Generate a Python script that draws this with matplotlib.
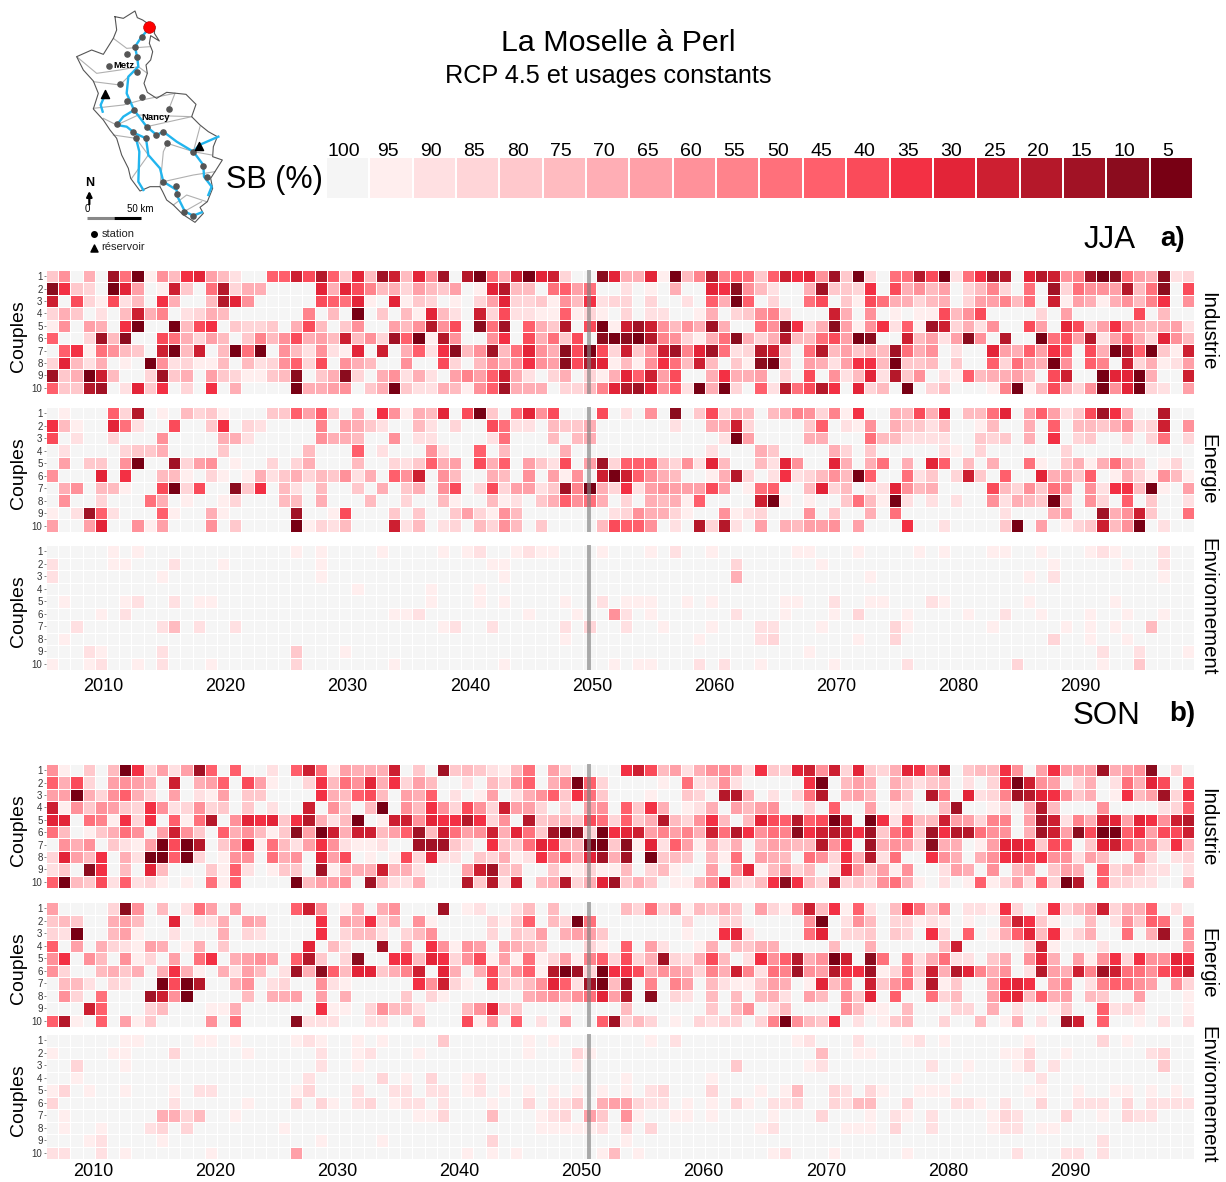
#!/usr/bin/env python
# -*- coding: utf-8 -*-
import numpy as np
import matplotlib
matplotlib.use('Agg')
import matplotlib.pyplot as plt
from matplotlib.colors import ListedColormap, BoundaryNorm

plt.rcParams['font.family'] = ['Liberation Sans', 'DejaVu Sans']

W, H = 1226, 1182

years = np.arange(2006, 2100)
couples = [str(i) for i in range(1, 11)]
sb_levels = [100, 95, 90, 85, 80, 75, 70, 65, 60, 55, 50, 45, 40, 35, 30, 25, 20, 15, 10, 5]
sb_colors = ['#F5F5F5', '#FFEEEE', '#FFE0E2', '#FFD5D8', '#FFC8CC', '#FFBBC0', '#FFAEB5',
             '#FFA0A8', '#FF919A', '#FF838C', '#FF707B', '#FF5F6C', '#FA4B5A', '#F33044',
             '#E32438', '#CD1F31', '#B5182A', '#A11225', '#8B0C1E', '#780014']

# one character per year, 0 = SB 100 %, 1 = 95 %, ... j = 5 %
jja_industrie = [
    "48060 haj18 5de75 200bb fcgb4 e5hf5 e8h0g ja6fj ef300 ie 66e1j 59g9b a4bfd e8h4j 30aag cj2ad hg0eg f89hj ia76i 23",
    "id430 je701 f40ag 36600 00e6e c9563 75470 1eg55 0ab7a 00 20106 00edi 85200 6h443 d0c68 57035 930a0 h3a88 7g5ai 0c",
    "f0c31 c250d 6005g e8000 00cba e10e1 43010 37e33 4185d 23 30300 20b6j b0300 ac041 ca663 56037 795a0 f1761 6859d 08",
    "36402 05f69 02365 00000 09050 j0405 1e520 f3c22 11b13 10 30220 01603 48930 00f60 80101 1c58c 00003 07000 00c05 00",
    "18076 0dj00 j5cd0 43340 6c504 80075 8g8c0 iah0b 64g0c j1 fhf85 86h60 0a8id 36i71 8d2b1 hf362 800c7 0ec47 d8656 72",
    "b003h 5i00c a6375 04958 c675f 583hb j1g80 08d0c 6a4c0 ij ijg98 316ai 636g5 5ac7j i00f5 727i8 0g00j ac7g2 7b63e 85",
    "0bd1a 8540f j5f05 jaj08 52821 e0f06 b2di5 8h5ae 86icj c3 f48fh 9eha2 3gf40 ag574 65ha6 80200 e76b7 db0c6 jgbj4 1f",
    "3e526 010j8 23115 05238 b3c08 65008 00c30 5868d 87icg e1 518da 5f504 1ij40 7627d d5j44 50400 b3a76 j80b9 0f361 27",
    "h46jf 5003h 46074 31145 i046i 30682 62079 7bf62 03603 16 ebf7c 006d6 67030 c0825 e2g48 021b5 66750 cf00j eej60 0f",
    "b44gh 02e4d 030d0 60000 j6678 046j4 22651 8bh66 60335 9e ghe8b 2j6j3 0b2ga cgd0e 350j0 35000 19j15 c638j 8ej32 07",
]
jja_energie = [
    "01000 b3g01 05341 00044 b7b40 60d81 65e0c j40ae 8c000 c0 2080i 04c36 50569 8391d 0065c 6e055 ae07b 724ch d600g 00",
    "d5100 ea200 c004d 03200 00907 64200 52030 0ca22 05446 00 00002 0066f 30000 4b021 80644 25001 50060 b0554 6823f 08",
    "c0200 30008 00006 62000 00866 50080 22000 02a00 05056 00 00000 0002j 70000 66000 a5522 22004 34060 d0340 0303a 03",
    "02000 03446 00004 00000 05000 b0200 08200 b0500 00600 00 00000 00200 06400 00630 40000 02103 00000 03000 00000 00",
    "07044 08j00 h3780 10030 36000 50032 4b670 c6b07 42c07 h3 bbb53 82e50 052e8 00e60 6a060 eb050 600a1 04616 a6401 30",
    "8000e 0d005 51031 01624 63548 260b8 f0850 06508 07180 fj fb865 0016g 302d2 3585j b00a2 403f4 0b00e 674b0 16318 51",
    "06805 5100c j3c00 i4d05 20500 40604 608c0 3c377 24h9j 63 d2787 77c70 1ab00 5e350 22e85 60000 c5384 a8082 dd5j1 07",
    "08003 000a6 01001 30005 50600 05003 00510 05120 46b8a 60 30656 1b000 0fj10 1004a 51j20 20200 82654 j4083 0b040 02",
    "102hb 2000b 10061 00000 h001c 00040 40047 31850 00000 02 38663 10081 23000 80400 60a00 00000 02000 6700h 68f40 0a",
    "7007e 00817 00080 40000 j1325 000f2 50230 53850 40000 5c bb802 0g3g2 07065 77807 000d0 02000 04j07 0134f 58j02 00",
]
son_industrie = [
    "81040 5jd37 27hb0 b0020 bfa17 666f0 40h45 4215a 07300 00 dfc57 26887 2d43e f8f3e 436ed 8f045 5d807 d777h 678i0 30",
    "b6c30 78760 f067b 0c710 03d5a 8e6d3 75002 0538b 068jb 30 00010 a2382 00000 dj057 60642 45020 3djf8 70360 2a6ec 0c",
    "77j63 8b630 70217 04400 00d65 bc507 6b020 17026 8b4da 40 00100 430gg 60203 ag067 50740 g90e2 39hge d8460 1d57h 3d",
    "f1848 743d8 23834 04020 0f084 05j08 5d83c 83f77 30307 80 b4d60 12607 57800 30b00 70120 05h00 1306g 50008 00002 3b",
    "ee0a9 1d3d0 b1ag0 8ede4 dg625 j01ff 8eddg d380g 4554c a3 b46g5 38d50 5ecbg bcjf0 jd2c5 5f773 9907h f296f e7ed8 fg",
    "a5014 6a807 f840b 68514 i7jf6 ff57b h5fa7 8f6ea 4hji3 jd ef797 96fag d8a9i dfgfd h4ac4 hdgga 8806h f7icj jbd7c cf",
    "08680 4217j cjg04 8e1a5 27d82 11200 hhh42 0d44a ed55j j4 i1e2b 71626 05765 5g8d0 h6873 i6601 7eed4 cb04e fb883 d6",
    "3e75d 062jj bj301 880a6 80e7c 0101c 3e220 43612 d8b6e h6 h0j45 4051a 07650 a83d6 g2a00 d8606 8decd 88275 00830 23",
    "240id 050e5 00041 b2014 40h15 66f56 20007 fh450 04113 11 50351 00708 e1573 502e8 47180 02760 80570 4760b 35422 02",
    "bj54c 2b231 010a1 b0000 j5778 0h522 6000g 4g2f0 56g36 eh 46401 158e3 25did 53g34 38a61 0201b 1372b 3jg0b 33220 06",
]
son_energie = [
    "70000 3i805 02a70 70000 bf801 60680 00h01 20025 05000 00 53a37 15464 07318 f5d1b 205da 49022 1d302 d357f 366b0 20",
    "45400 67500 e0226 07600 00d07 6d360 81000 0314b 053ja 00 00000 30033 00000 8j028 50331 21010 08fd4 10050 284ba 08",
    "32j00 57100 20006 03200 00d03 55203 58000 03043 70677 40 00000 100de 20000 ae033 40430 d30b0 16be5 d1360 0a06h 08",
    "b0706 32176 01604 00000 0e052 00h07 0d818 70765 40003 10 b0720 01605 46600 00500 60000 05f00 0003f 10002 00000 07",
    "8d085 08130 70ad0 67870 bg403 i00dd 5ed38 c171a 13719 b3 c36h3 26c50 2d8bg 68jf0 ia092 6a220 4608e 60718 d3d88 ed",
    "83005 64606 d6106 27502 h6ib5 ee469 f0e60 6c48b 1gjh3 jd dc687 6396f 92a9h 87gdd h13a4 f6ge9 6802g 76f9h faa8c df",
    "05520 3200j cjg00 68023 00821 00000 d8f31 0c435 8eb2h j5 h0909 70521 14760 1e590 f48a2 g1400 7ded0 79029 ba870 83",
    "0830a 000hf 8j000 05066 70706 00004 03100 00006 7868a e7 g0i03 20505 05620 75084 e0b00 a3500 7de5b 67054 00700 01",
    "000fb 00035 00011 60000 00d11 03855 20005 8e440 00100 00 50000 00405 80250 00085 11050 00330 60200 1400b 23200 01",
    "bg10b 07140 00080 a0000 i2220 02200 5000c 180b0 20700 bh 35301 03233 039j8 54d02 01450 03005 01602 0hf0b 00102 02",
]
# environnement is nearly empty: {years after 2006: class}
jja_environnement = [
    {5:1, 7:1, 20:1, 22:1, 27:1, 32:1, 34:1, 35:2, 38:1, 39:2, 40:1, 41:1, 45:1, 49:1, 51:2, 54:1, 61:1, 62:1,
     66:1, 71:1, 73:1, 77:1, 78:1, 81:1, 85:1, 86:2, 87:1, 91:2},
    {0:2, 5:1, 6:1, 10:2, 14:1, 22:1, 36:1, 37:1, 56:3, 63:1, 82:1, 88:1, 91:2},
    {0:2, 9:1, 22:1, 37:1, 56:6, 67:1, 80:1, 82:2, 91:1},
    {25:1, 31:1, 35:1},
    {1:1, 6:1, 7:2, 10:2, 12:1, 13:1, 31:1, 35:1, 37:1, 42:1, 45:2, 47:1, 48:1, 49:1, 52:1, 54:1, 60:1, 61:1,
     64:2, 67:1, 68:1, 72:2, 73:1, 80:1, 87:1},
    {4:1, 6:2, 28:1, 29:1, 30:2, 39:1, 43:1, 46:8, 47:2, 49:1, 56:2, 60:1, 64:1, 66:3, 70:1, 75:1, 78:2, 81:1,
     85:1, 88:1, 91:1},
    {2:2, 9:2, 10:5, 12:2, 15:2, 32:1, 33:2, 36:2, 42:2, 44:3, 47:2, 50:1, 54:1, 58:2, 59:2, 63:1, 69:3, 70:1,
     77:1, 83:1, 85:1, 87:1, 90:5},
    {1:1, 42:1, 53:1, 58:2, 59:3, 66:1, 69:3, 82:3, 85:1, 88:1},
    {3:2, 4:1, 9:2, 20:4, 24:1, 62:1, 86:2, 89:2, 93:1},
    {0:1, 3:1, 4:2, 7:1, 9:2, 13:1, 20:3, 28:1, 37:1, 46:1, 48:1, 49:1, 53:2, 55:2, 58:1, 64:1, 70:2, 79:3, 86:1, 89:4},
]
son_environnement = [
    {6:1, 7:1, 12:1, 13:1, 15:1, 20:1, 21:2, 22:1, 25:1, 27:1, 32:4, 39:1, 41:1, 49:1, 51:2, 61:1, 62:2, 66:2,
     70:1, 71:2, 73:1, 80:1, 86:3, 88:1},
    {0:1, 5:1, 6:1, 10:3, 16:1, 22:2, 25:1, 26:2, 30:1, 39:1, 43:3, 44:1, 63:5, 66:1, 67:1, 78:1, 79:1, 80:3,
     83:1, 90:2, 91:3},
    {2:3, 6:1, 22:2, 25:1, 43:1, 56:4, 62:1, 63:2, 72:2, 75:1, 79:1, 80:3, 82:2, 91:4},
    {2:1, 21:2, 27:3, 29:1, 31:3, 34:1, 35:2, 47:1, 54:1, 74:1, 81:2},
    {0:1, 1:3, 3:1, 6:1, 10:1, 12:2, 13:2, 20:1, 21:3, 25:2, 28:2, 29:2, 31:2, 32:2, 34:1, 35:2, 37:1, 39:1, 41:1,
     43:1, 45:1, 47:1, 49:2, 50:3, 54:3, 58:1, 60:1, 61:5, 64:3, 65:2, 67:3, 68:1, 71:1, 72:1, 73:1, 80:1, 81:1,
     84:1, 87:1, 88:1, 90:1, 92:1},
    {0:3, 10:2, 16:1, 20:3, 22:3, 23:1, 25:2, 26:3, 28:1, 29:2, 30:2, 32:2, 36:1, 39:3, 41:2, 42:2, 43:4, 45:6,
     46:7, 47:7, 48:3, 49:2, 50:2, 52:1, 54:1, 56:3, 57:1, 59:2, 60:2, 61:3, 64:3, 65:2, 66:5, 67:5, 70:3, 74:2,
     75:2, 76:1, 78:2, 81:3, 84:2, 85:2, 86:2, 88:3, 90:2, 91:2, 92:2, 93:2},
    {1:1, 9:6, 10:6, 11:3, 12:5, 15:1, 30:1, 31:1, 32:3, 36:5, 40:1, 41:2, 42:3, 44:7, 45:4, 47:8, 48:1, 51:1,
     52:1, 54:1, 59:1, 63:3, 67:1, 69:2, 70:1, 72:2, 77:1, 78:3, 79:2, 83:3, 86:1, 88:3, 89:2, 90:2},
    {1:1, 4:1, 8:2, 9:3, 11:3, 19:1, 40:1, 41:1, 42:1, 43:1, 44:1, 45:2, 47:3, 49:3, 58:1, 59:2, 65:1, 66:1, 67:1,
     69:3, 72:2, 77:1, 78:2, 79:2, 81:1, 82:1},
    {3:1, 4:2, 9:1, 22:1, 27:1, 36:3, 47:1, 86:2},
    {0:2, 1:2, 4:2, 6:1, 13:1, 20:7, 34:1, 36:1, 38:1, 45:1, 46:5, 48:1, 59:1, 60:2, 64:1, 70:1, 79:2, 83:2, 84:2, 86:2},
]

# map of the basin, in pixels of the map box
basin = [(165,35),(190,40),(225,18),(232,38),(248,45),(258,52),(285,65),(283,85),(298,108),(272,92),(268,115),
         (278,140),(272,165),(258,180),(262,205),(252,235),(262,262),(290,280),(320,262),(350,265),(378,268),
         (408,298),(395,335),(420,360),(445,380),(472,395),(460,425),(458,455),(487,465),(468,495),(452,520),
         (458,550),(442,590),(420,607),(430,625),(405,652),(368,628),(340,600),(320,585),(308,560),(300,545),
         (270,545),(240,558),(212,520),(205,490),(185,450),(170,400),(150,375),(130,345),(100,312),(115,265),
         (100,228),(70,195),(50,155),(95,135),(130,148),(160,100),(170,75),(165,35)]
subbasins = [[(50,155),(110,205),(180,195),(235,185)], [(160,100),(200,130),(270,125)],
             [(100,230),(180,240),(205,215)], [(100,310),(190,300),(245,285),(345,265)],
             [(130,340),(170,360),(235,330),(395,335)], [(160,390),(228,400),(265,450),(215,520)],
             [(300,545),(310,440),(322,415),(400,440)], [(310,530),(400,510),(465,500)],
             [(340,600),(380,570),(440,590)], [(420,365),(400,440),(455,450)],
             [(235,185),(262,205)], [(327,311),(345,265)], [(260,365),(395,335)], [(372,620),(425,590)]]
rivers = [[(268,70),(245,95),(225,125),(232,160),(235,185),(205,215),(200,265),(222,315),(190,335),(170,360),
           (200,365),(225,385),(258,400),(265,450),(300,490),(310,530),(350,555),(350,570),(375,620),(400,632),(425,622)],
          [(222,315),(260,365),(290,390),(310,380),(350,410),(400,440),(430,480),(432,515),(455,545),(445,570)],
          [(400,440),(418,420),(475,395)],
          [(228,400),(238,440),(235,530),(250,555)],
          [(135,270),(122,300),(128,320)]]
stations = [(245,97),(225,125),(202,148),(232,157),(148,183),(232,202),(180,236),(245,277),(202,287),(222,315),
            (327,311),(170,358),(220,380),(260,365),(288,390),(310,380),(258,400),(228,400),(322,415),(400,442),
            (428,483),(442,517),(310,532),(348,542),(350,567),(372,620),(400,633)]
reservoirs = [(135,268),(417,422)]
outlet = (267,67)

cmap = ListedColormap(sb_colors[::-1])
norm = BoundaryNorm(np.arange(2.5, 103, 5), cmap.N)

fig = plt.figure(figsize=(W/100, H/100), dpi=100)


def px_axes(x0, y0, x1, y1):
    return fig.add_axes([x0/W, 1 - y1/H, (x1 - x0)/W, (y1 - y0)/H])


def from_rows(rows):
    keys = '0123456789abcdefghij'
    out = [[100 - 5*keys.index(c) for c in r.replace(' ', '')] for r in rows]
    return np.array(out)


def from_sparse(rows):
    out = np.full((10, len(years)), 100)
    for i, r in enumerate(rows):
        for k, c in r.items():
            out[i, k] = 100 - 5*c
    return out


def panel(box, values, side, ticks=None, side_y=None, pad=5):
    ax = px_axes(*box)
    ax.pcolormesh(np.arange(2005.5, 2100), np.arange(11), values, cmap=cmap, norm=norm,
                  edgecolors='white', linewidth=0.5)
    ax.set_xlim(2005.5, 2099.5)
    ax.set_ylim(10, 0)
    ax.axvline(2050, color='#808080', lw=2.8, alpha=0.65)
    for s in ax.spines.values():
        s.set_visible(False)
    ax.set_yticks(np.arange(10) + 0.5)
    ax.set_yticklabels(couples, fontsize=7, color='#333333')
    ax.tick_params(axis='y', length=1.5, width=0.5, pad=1, color='#555555')
    if ticks is None:
        ax.set_xticks([])
    else:
        ax.set_xticks(np.arange(2010, 2100, 10) + ticks)
        ax.set_xticklabels([str(y) for y in range(2010, 2100, 10)], fontsize=13)
        ax.tick_params(axis='x', length=0, pad=pad)
    mid = (box[1] + box[3])/2 + 4
    fig.text(19/W, 1 - mid/H, 'Couples', rotation=90, ha='center', va='center', fontsize=14)
    fig.text(1208/W, 1 - side_y/H, side, rotation=-90, ha='center', va='center', fontsize=14.8)


panel((46, 270, 1194, 394), from_rows(jja_industrie), 'Industrie', side_y=331)
panel((46, 407, 1194, 532), from_rows(jja_energie), 'Energie', side_y=469)
panel((46, 545, 1194, 670), from_sparse(jja_environnement), 'Environnement', ticks=0.2, side_y=607, pad=6)
panel((46, 764, 1194, 888), from_rows(son_industrie), 'Industrie', side_y=827)
panel((46, 902, 1194, 1027), from_rows(son_energie), 'Energie', side_y=963)
panel((46, 1034, 1194, 1159), from_sparse(son_environnement), 'Environnement', ticks=-0.65, side_y=1095, pad=3)

# colour scale
lax = px_axes(326, 157, 1193, 199)
lax.pcolormesh(np.arange(21), [0, 1], np.array([sb_levels]), cmap=cmap, norm=norm,
               edgecolors='white', linewidth=1.3)
for s in lax.spines.values():
    s.set_visible(False)
lax.set_yticks([])
lax.xaxis.tick_top()
lax.set_xticks(np.arange(20) + 0.42)
lax.set_xticklabels([str(v) for v in sb_levels], fontsize=14)
lax.tick_params(axis='x', length=0, pad=-2)

# titles
fig.text(618/W, 1 - 43/H, 'La Moselle à Perl', ha='center', va='center', fontsize=21.9)
fig.text(608/W, 1 - 76/H, 'RCP 4.5 et usages constants', ha='center', va='center', fontsize=18.2)
fig.text(274/W, 1 - 180/H, 'SB (%)', ha='center', va='center', fontsize=22)
fig.text(1110/W, 1 - 240/H, 'JJA', ha='center', va='center', fontsize=22.5)
fig.text(1173/W, 1 - 239/H, 'a)', ha='center', va='center', fontsize=20, fontweight='bold')
fig.text(1106/W, 1 - 716/H, 'SON', ha='center', va='center', fontsize=22.5)
fig.text(1182/W, 1 - 714/H, 'b)', ha='center', va='center', fontsize=20, fontweight='bold')

# basin map
max_ = px_axes(60, 5, 340, 260)
max_.set_xlim(0, 840)
max_.set_ylim(765, 0)
max_.axis('off')
for line in subbasins:
    max_.plot(*zip(*line), color='#B0B0B0', lw=0.8)
max_.plot(*zip(*basin), color='#555555', lw=0.8)
for line in rivers:
    max_.plot(*zip(*line), color='#22B5EE', lw=1.7)
max_.scatter(*zip(*stations), s=14, color='#555555', zorder=3)
max_.scatter(*zip(*reservoirs), s=34, marker='^', color='black', zorder=3)
max_.scatter(*outlet, s=72, color='#FF0000', edgecolors='#AA0000', linewidth=0.4, zorder=4)
max_.text(192, 183, 'Metz', fontsize=6.8, fontweight='bold', ha='center', va='center', zorder=5)
max_.text(288, 337, 'Nancy', fontsize=6.8, fontweight='bold', ha='center', va='center', zorder=5)
max_.text(88, 535, 'N', fontsize=9, fontweight='bold', ha='center', va='center')
max_.annotate('', xy=(88, 558), xytext=(88, 598),
              arrowprops=dict(arrowstyle='-|>', color='black', lw=1.6, mutation_scale=8, shrinkA=0, shrinkB=0))
max_.text(82, 612, '0', fontsize=7, ha='center', va='center')
max_.text(242, 612, '50 km', fontsize=7, ha='center', va='center')
max_.plot([82, 162], [640, 640], color='#888888', lw=2.2, solid_capstyle='butt')
max_.plot([162, 243], [640, 640], color='black', lw=2.2, solid_capstyle='butt')
max_.scatter([103], [687], s=16, color='black')
max_.scatter([103], [730], s=26, marker='^', color='black')
max_.text(125, 687, 'station', fontsize=8, ha='left', va='center', color='#222222')
max_.text(125, 727, 'réservoir', fontsize=8, ha='left', va='center', color='#222222')

fig.savefig('out.png', dpi=100)
